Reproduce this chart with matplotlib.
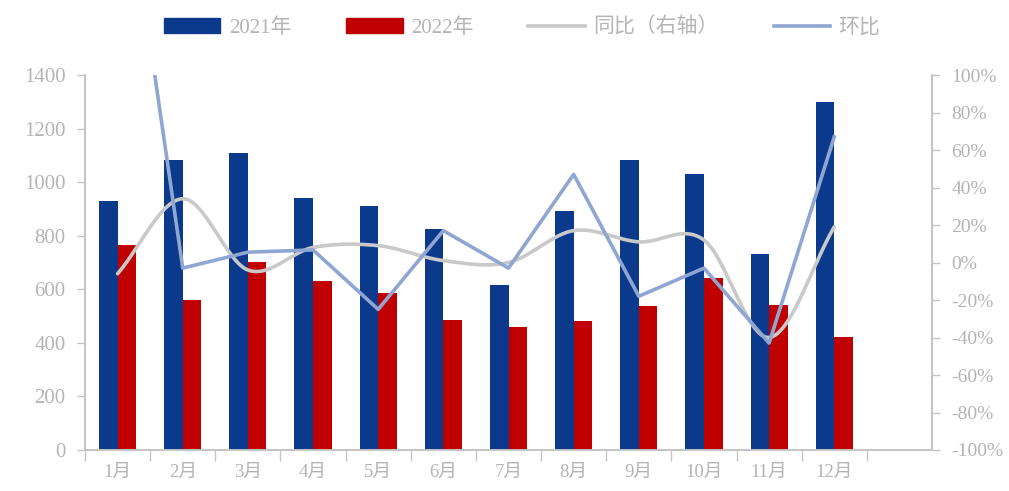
import numpy as np
import matplotlib
matplotlib.use("Agg")
import matplotlib.pyplot as plt
from matplotlib.patches import Patch
from matplotlib.lines import Line2D
from matplotlib.ticker import FuncFormatter

plt.rcParams['font.family'] = ['Liberation Serif', 'Noto Sans CJK SC', 'DejaVu Sans']

months = ['1月', '2月', '3月', '4月', '5月', '6月', '7月', '8月', '9月', '10月', '11月', '12月']
sales_2021 = [930, 1082, 1108, 940, 910, 825, 616, 892, 1082, 1030, 731, 1299]
sales_2022 = [765, 560, 702, 630, 586, 485, 459, 481, 537, 642, 541, 422]
yoy = [-0.06, 0.34, -0.04, 0.08, 0.09, 0.01, 0.00, 0.17, 0.11, 0.12, -0.40, 0.19]
mom = [2.37, -0.03, 0.055, 0.067, -0.25, 0.17, -0.03, 0.47, -0.18, -0.03, -0.43, 0.67]

TEXT = '#b4b4b4'
AXIS = '#c4c4c4'
NAVY = '#0b3a8c'
RED = '#c00000'
GREY_LINE = '#c9c9c9'
STEEL_LINE = '#8fa6d2'


def catmull_rom(x, y, n=30):
    """Smooth curve through the given points (uniform Catmull-Rom)."""
    x = np.asarray(x, float)
    y = np.asarray(y, float)
    px = np.concatenate([[2 * x[0] - x[1]], x, [2 * x[-1] - x[-2]]])
    py = np.concatenate([[2 * y[0] - y[1]], y, [2 * y[-1] - y[-2]]])
    xs, ys = [], []
    t = np.linspace(0, 1, n, endpoint=False)
    for i in range(1, len(px) - 2):
        for arr, out in ((px, xs), (py, ys)):
            p0, p1, p2, p3 = arr[i - 1], arr[i], arr[i + 1], arr[i + 2]
            out.extend(0.5 * ((2 * p1) + (-p0 + p2) * t
                              + (2 * p0 - 5 * p1 + 4 * p2 - p3) * t ** 2
                              + (-p0 + 3 * p1 - 3 * p2 + p3) * t ** 3))
    xs.append(x[-1])
    ys.append(y[-1])
    return np.array(xs), np.array(ys)


def pct(v, _pos):
    return f'{int(round(v * 100))}%'


fig = plt.figure(figsize=(10.09, 4.91), dpi=100)
ax = fig.add_axes([85 / 1009, 41 / 491, 847 / 1009, 375 / 491])
ax2 = ax.twinx()

x = np.arange(len(months))
w = 0.285
ax.bar(x - w / 2, sales_2021, width=w, color=NAVY, zorder=2)
ax.bar(x + w / 2, sales_2022, width=w, color=RED, zorder=2)

# one empty slot after December
ax.set_xlim(-0.5, len(months) + 0.5)
ax.set_ylim(0, 1400)
ax.set_yticks(range(0, 1401, 200))
ax.set_xticks(np.arange(-0.5, len(months) + 0.5, 1.0))
ax.set_xticklabels([])
ax.set_xticks(x, minor=True)
ax.set_xticklabels(months, minor=True)
ax.tick_params(axis='x', which='major', length=8, width=1, color=AXIS, direction='out')
ax.tick_params(axis='x', which='minor', length=0, pad=10, labelsize=13.5, labelcolor=TEXT)
ax.tick_params(axis='y', length=6, width=1, color=AXIS, labelsize=15, labelcolor=TEXT, pad=8)

sx, sy = catmull_rom(x, yoy)
ax2.plot(sx, sy, color=GREY_LINE, lw=2.6, zorder=3, solid_capstyle='round')
ax2.plot(x, mom, color=STEEL_LINE, lw=2.6, zorder=4)
ax2.set_ylim(-1.0, 1.0)
ax2.set_yticks(np.arange(-1.0, 1.01, 0.2))
ax2.yaxis.set_major_formatter(FuncFormatter(pct))
ax2.tick_params(axis='y', length=6, width=1, color=AXIS, labelsize=14, labelcolor=TEXT, pad=8)

for a in (ax, ax2):
    a.spines['top'].set_visible(False)
    for side in ('left', 'right', 'bottom'):
        a.spines[side].set_color(AXIS)
        a.spines[side].set_linewidth(1.2)

handles = [
    Patch(facecolor=NAVY, edgecolor=NAVY),
    Patch(facecolor=RED, edgecolor=RED),
    Line2D([], [], color=GREY_LINE, lw=2.6),
    Line2D([], [], color=STEEL_LINE, lw=2.6),
]
labels = ['2021年', '2022年', '同比（右轴）', '环比']
fig.legend(handles, labels, loc='center', bbox_to_anchor=(522 / 1009, 1 - 28 / 491),
           ncol=4, frameon=False, fontsize=15, handlelength=2.7, handleheight=0.75,
           handletextpad=0.4, columnspacing=2.65, labelcolor=TEXT)

fig.savefig('out.png', dpi=100)
